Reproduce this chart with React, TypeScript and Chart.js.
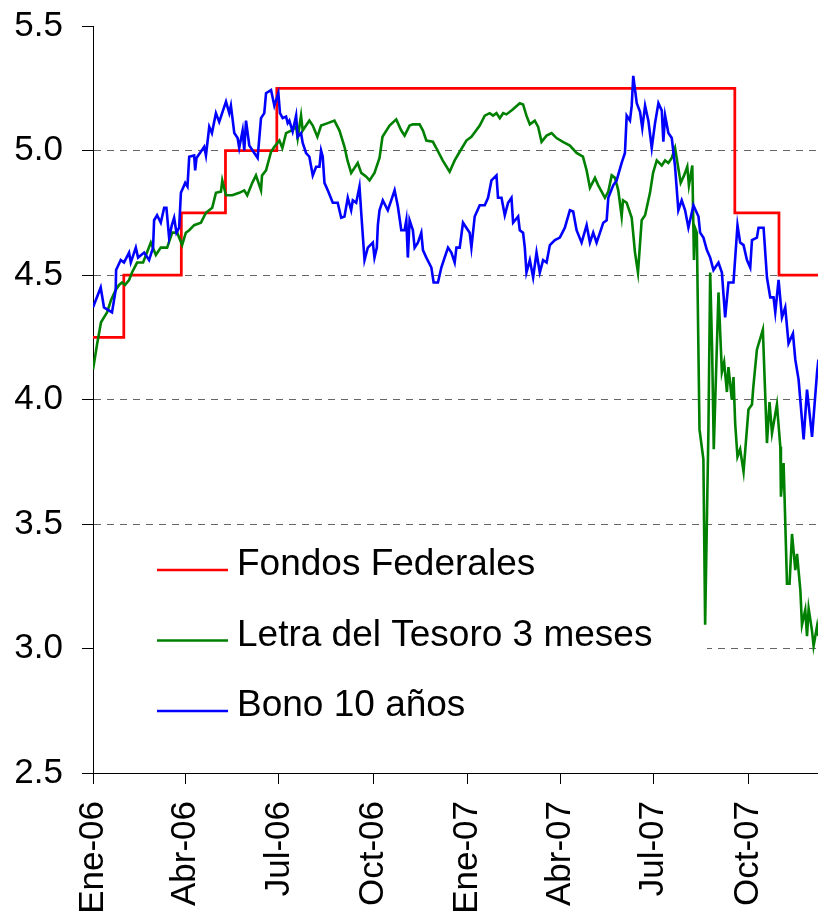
import React, { useEffect, useRef } from "react";
import { Chart, registerables } from "chart.js";

Chart.register(...registerables);

const FONT = "'Liberation Sans', Arial, Helvetica, sans-serif";

// x values are days since 1 Jan 2006
const TICK_DAYS = [0, 90, 181, 273, 365, 455, 546, 638];
const TICK_LABELS = ["Ene-06", "Abr-06", "Jul-06", "Oct-06", "Ene-07", "Abr-07", "Jul-07", "Oct-07"];
const Y_TICKS = [2.5, 3.0, 3.5, 4.0, 4.5, 5.0, 5.5];
const X_MAX = 706;

const SERIES_NAMES = ["Fondos Federales", "Letra del Tesoro 3 meses", "Bono 10 años"];
const SERIES_COLORS = ["#FF0000", "#008000", "#0000FF"];

const FED_DAYS = [0, 30, 86, 129, 179, 625, 668, 706];
const FED_RATES = [4.25, 4.5, 4.75, 5.0, 5.25, 4.75, 4.5, 4.5];

const TBILL_DAYS = [
  0, 3.9, 7.8, 10.7, 13.7, 17.6, 22.1, 25.4, 28.3, 31.2,
  35.1, 38.0, 42.9, 48.8, 56.3, 61.2, 66.0, 72.2, 77.1, 82.0,
  86.8, 90.4, 93.7, 98.5, 105.1, 110.0, 116.1, 119.7, 124.6, 125.9,
  129.5, 135.6, 142.4, 147.3, 150.2, 155.1, 158.7, 163.6, 164.6, 168.5,
  173.4, 176.6, 181.5, 184.4, 188.0, 192.9, 197.8, 199.3, 202.6, 204.2,
  210.7, 214.0, 218.5, 222.1, 228.6, 235.1, 240.0, 244.9, 247.8, 251.4,
  257.8, 261.2, 266.1, 269.3, 274.1, 279.0, 281.9, 288.8, 295.3, 300.2,
  303.4, 308.3, 311.5, 318.0, 321.3, 324.6, 331.0, 334.3, 340.5, 347.3,
  352.2, 357.1, 363.6, 368.5, 376.6, 381.5, 386.3, 389.6, 392.9, 396.1,
  399.4, 402.6, 408.7, 415.6, 418.8, 422.1, 425.4, 430.2, 433.5, 436.8,
  441.7, 446.6, 451.4, 457.6, 464.4, 470.9, 477.1, 480.7, 483.9, 488.8,
  492.0, 495.3, 498.5, 501.8, 505.1, 508.3, 511.5, 514.8, 516.1, 519.7,
  524.6, 527.8, 530.7, 534.3, 537.6, 542.4, 545.4, 549.0, 553.9, 557.1,
  560.3, 563.6, 566.8, 572.3, 575.6, 578.7, 580.3, 583.6, 585.2, 586.2,
  588.0, 590.6, 594.4, 596.1, 599.3, 601.0, 602.9, 604.5, 609.1, 612.4,
  614.6, 617.3, 618.8, 622.1, 623.7, 625.4, 627.6, 630.2, 633.5, 638.3,
  641.7, 643.0, 646.5, 652.3, 656.3, 658.8, 661.2, 666.0, 669.3, 669.9,
  672.5, 675.8, 678.3, 680.7, 683.9, 685.6, 688.8, 690.4, 693.6, 695.3,
  696.9, 700.2, 701.7, 705.1, 706.4,
];
const TBILL_RATES = [
  4.12, 4.22, 4.31, 4.33, 4.35, 4.40, 4.44, 4.46, 4.47, 4.46,
  4.48, 4.51, 4.55, 4.55, 4.63, 4.58, 4.61, 4.61, 4.67, 4.67,
  4.62, 4.67, 4.68, 4.70, 4.71, 4.75, 4.77, 4.83, 4.835, 4.88,
  4.82, 4.82, 4.83, 4.84, 4.82, 4.87, 4.90, 4.84, 4.90, 4.92,
  4.995, 5.015, 5.04, 5.01, 5.07, 5.08, 5.095, 5.05, 5.14, 5.08,
  5.12, 5.10, 5.055, 5.10, 5.11, 5.12, 5.08, 5.015, 4.96, 4.91,
  4.95, 4.91, 4.895, 4.88, 4.91, 4.97, 5.055, 5.10, 5.125, 5.08,
  5.06, 5.10, 5.105, 5.105, 5.08, 5.04, 5.035, 5.01, 4.96, 4.915,
  4.96, 4.995, 5.04, 5.055, 5.10, 5.14, 5.15, 5.14, 5.15, 5.13,
  5.15, 5.145, 5.165, 5.19, 5.185, 5.14, 5.105, 5.12, 5.095, 5.035,
  5.06, 5.07, 5.05, 5.035, 5.02, 4.99, 4.975, 4.92, 4.85, 4.89,
  4.86, 4.835, 4.81, 4.835, 4.90, 4.89, 4.84, 4.735, 4.80, 4.79,
  4.73, 4.59, 4.51, 4.72, 4.74, 4.83, 4.91, 4.96, 4.94, 4.96,
  4.95, 4.97, 5.01, 4.87, 4.90, 4.935, 4.86, 4.94, 4.56, 4.69,
  4.67, 3.88, 3.76, 3.095, 3.88, 4.51, 4.20, 3.80, 4.43, 4.11,
  4.15, 4.03, 4.13, 4.00, 4.09, 3.90, 3.77, 3.80, 3.71, 3.96,
  3.98, 4.05, 4.20, 4.28, 3.825, 3.99, 3.865, 3.98, 3.81, 3.61,
  3.745, 3.26, 3.26, 3.46, 3.315, 3.38, 3.235, 3.095, 3.155, 3.05,
  3.16, 3.07, 3.01, 3.09, 3.05,
];

const BOND_DAYS = [
  0, 7.5, 10.7, 18.5, 22.1, 22.5, 27, 30.2, 35.1, 36.8,
  41.7, 43.9, 49.8, 54.6, 58.5, 59.5, 62.4, 66, 69.3, 71.5,
  74.1, 76.8, 79, 81.3, 83.9, 85.6, 89.8, 92, 93.7, 98.5,
  99.5, 100.8, 108.3, 110, 113.2, 115.8, 119.7, 122.9, 129.5, 132.7,
  134.3, 137.6, 140.8, 142.4, 145.7, 147.3, 149, 152.2, 155.4, 160.3,
  163.6, 166.8, 168.5, 173.4, 176.6, 180.5, 182.1, 184.7, 188, 189.6,
  191.2, 194.4, 197.8, 199.3, 202.6, 204.2, 207.5, 210.7, 214, 217.3,
  220.5, 222.1, 223.7, 225.4, 228.6, 233.5, 238.3, 241.7, 244.9, 248.1,
  251.4, 253, 256.3, 259.5, 261.2, 264.4, 267.6, 272.5, 274.1, 276.4,
  277.4, 279, 282.2, 287.1, 290.4, 293.7, 296.9, 300.2, 303.4, 305.1,
  306.6, 308.3, 311.5, 313.2, 316.4, 319.7, 321.3, 324.6, 329.5, 331.7,
  335.9, 339.2, 342.4, 345.7, 349, 352.2, 353.9, 357.1, 360.3, 366.8,
  368.5, 371.7, 376.6, 381.5, 384.7, 388, 392.9, 394.4, 397.8, 401,
  404.2, 407.5, 409.1, 414, 415.6, 418.8, 420.5, 422.1, 425.4, 428.6,
  431.9, 435.1, 438.3, 441.7, 444.9, 449.8, 454.6, 459.5, 464.4, 467.6,
  470.9, 475.8, 480.7, 483.9, 487.1, 490.4, 493.7, 496.9, 500.2, 501.8,
  506.6, 509.9, 514.8, 518, 519.7, 522.9, 524.6, 526.1, 529.5, 532.7,
  534.9, 537.6, 540.8, 544.1, 547.3, 550.6, 553.9, 555.4, 557.1, 560.3,
  563.6, 566.8, 570, 573.3, 576.6, 579.8, 584.7, 589.6, 591.2, 594.4,
  597.8, 601, 604.2, 609.1, 612.4, 615.6, 618.8, 623.7, 627.6, 630.2,
  633.5, 636.8, 640, 641.7, 646.5, 648.1, 653, 656.3, 659.5, 662.7,
  664.4, 667.6, 670.9, 674.1, 677.3, 681.6, 683.9, 687.1, 692, 695.3,
  700.2, 705.1, 706.4,
];
const BOND_RATES = [
  4.37, 4.45, 4.37, 4.35, 4.44, 4.52, 4.56, 4.55, 4.59, 4.55,
  4.61, 4.57, 4.59, 4.56, 4.61, 4.72, 4.74, 4.71, 4.77, 4.77,
  4.65, 4.70, 4.73, 4.67, 4.69, 4.83, 4.87, 4.855, 4.975, 4.98,
  4.92, 4.97, 5.015, 4.98, 5.095, 5.07, 5.15, 5.115, 5.196, 5.15,
  5.18, 5.07, 5.05, 5.01, 5.08, 5.00, 5.12, 5.02, 5.00, 4.97,
  5.13, 5.15, 5.23, 5.243, 5.18, 5.23, 5.15, 5.13, 5.136, 5.11,
  5.12, 5.076, 5.14, 5.055, 5.07, 5.03, 4.99, 4.975, 4.90, 4.935,
  4.935, 5.00, 4.975, 4.87, 4.84, 4.79, 4.79, 4.73, 4.735, 4.81,
  4.76, 4.80, 4.79, 4.855, 4.75, 4.56, 4.61, 4.63, 4.57, 4.61,
  4.70, 4.76, 4.80, 4.76, 4.80, 4.84, 4.775, 4.68, 4.68, 4.72,
  4.57, 4.72, 4.68, 4.61, 4.63, 4.67, 4.60, 4.57, 4.53, 4.47,
  4.47, 4.53, 4.57, 4.61, 4.59, 4.55, 4.61, 4.61, 4.71, 4.67,
  4.61, 4.735, 4.78, 4.78, 4.81, 4.88, 4.90, 4.81, 4.81, 4.74,
  4.79, 4.81, 4.71, 4.735, 4.68, 4.67, 4.61, 4.51, 4.56, 4.49,
  4.59, 4.51, 4.56, 4.55, 4.62, 4.64, 4.65, 4.69, 4.76, 4.755,
  4.68, 4.63, 4.70, 4.63, 4.67, 4.63, 4.67, 4.71, 4.72, 4.81,
  4.86, 4.88, 4.95, 4.99, 5.14, 5.12, 5.18, 5.30, 5.19, 5.155,
  5.09, 5.18, 5.12, 5.01, 5.11, 5.19, 5.16, 5.035, 5.14, 5.07,
  5.05, 4.935, 4.76, 4.80, 4.76, 4.69, 4.78, 4.735, 4.67, 4.65,
  4.60, 4.57, 4.52, 4.55, 4.51, 4.33, 4.47, 4.47, 4.70, 4.63,
  4.62, 4.56, 4.53, 4.64, 4.65, 4.69, 4.69, 4.49, 4.41, 4.41,
  4.35, 4.48, 4.33, 4.37, 4.225, 4.265, 4.16, 4.08, 3.84, 4.04,
  3.85, 4.11, 4.16,
];

const toPoints = (xs: number[], ys: number[]) => xs.map((x, i) => ({ x, y: ys[i] }));

const legendPlugin = {
  id: "boxLegend",
  beforeDatasetsDraw(chart: any) {
    const { ctx, chartArea } = chart;
    ctx.save();
    ctx.fillStyle = "#FFFFFF";
    ctx.fillRect(chartArea.left + 1, 536, 707 - chartArea.left - 1, 194);
    ctx.restore();
  },
  afterDraw(chart: any) {
    const ctx = chart.ctx;
    ctx.save();
    ctx.font = `37px ${FONT}`;
    ctx.textAlign = "left";
    ctx.textBaseline = "alphabetic";
    SERIES_NAMES.forEach((name, i) => {
      const base = 575 + i * 70.5;
      ctx.strokeStyle = SERIES_COLORS[i];
      ctx.lineWidth = 2.5;
      ctx.beginPath();
      ctx.moveTo(157, base - 5);
      ctx.lineTo(228, base - 5);
      ctx.stroke();
      ctx.fillStyle = "#000";
      ctx.fillText(name, 237, base);
    });
    ctx.restore();
  },
};

export default function App() {
  const ref = useRef<HTMLCanvasElement | null>(null);

  useEffect(() => {
    if (!ref.current) return;
    const chart = new Chart(ref.current, {
      type: "line",
      data: {
        datasets: [
          {
            label: SERIES_NAMES[0],
            data: toPoints(FED_DAYS, FED_RATES),
            borderColor: SERIES_COLORS[0],
            borderWidth: 2.75,
            pointRadius: 0,
            stepped: "before",
            order: 3,
          },
          {
            label: SERIES_NAMES[1],
            data: toPoints(TBILL_DAYS, TBILL_RATES),
            borderColor: SERIES_COLORS[1],
            borderWidth: 2.6,
            pointRadius: 0,
            order: 2,
          },
          {
            label: SERIES_NAMES[2],
            data: toPoints(BOND_DAYS, BOND_RATES),
            borderColor: SERIES_COLORS[2],
            borderWidth: 2.6,
            pointRadius: 0,
            order: 1,
          },
        ],
      },
      options: {
        animation: false,
        responsive: false,
        devicePixelRatio: 1,
        layout: { padding: { top: 26, right: 0, bottom: 0, left: 0 } },
        plugins: { legend: { display: false }, tooltip: { enabled: false } },
        scales: {
          x: {
            type: "linear",
            min: 0,
            max: X_MAX,
            afterBuildTicks: (s: any) => {
              s.ticks = TICK_DAYS.map((v) => ({ value: v }));
            },
            afterFit: (s: any) => {
              s.height = 147;
              s.paddingLeft = 0;
              s.paddingRight = 0;
            },
            ticks: {
              autoSkip: false,
              minRotation: 90,
              maxRotation: 90,
              padding: 17,
              color: "#000",
              font: { size: 35, family: FONT },
              callback: (_v: any, i: number) => TICK_LABELS[i],
            },
            grid: {
              drawOnChartArea: false,
              drawTicks: true,
              tickLength: 11,
              tickColor: "#000",
              color: "#000",
            },
            border: { display: true, color: "#000", width: 1 },
          },
          y: {
            min: 2.5,
            max: 5.5,
            afterBuildTicks: (s: any) => {
              s.ticks = Y_TICKS.map((v) => ({ value: v }));
            },
            afterFit: (s: any) => {
              s.width = 93;
              s.paddingTop = 0;
              s.paddingBottom = 0;
            },
            ticks: {
              padding: 19,
              color: "#000",
              font: { size: 35, family: FONT },
              callback: (v: any) => Number(v).toFixed(1),
            },
            grid: {
              drawTicks: true,
              tickLength: 11,
              tickColor: "#000",
              lineWidth: 1,
              color: (c: any) =>
                c.tick && (c.tick.value === 2.5 || c.tick.value === 5.5) ? "rgba(0,0,0,0)" : "#666666",
            },
            border: { display: true, color: "#000", width: 1, dash: [7, 6] },
          },
        },
      },
      plugins: [legendPlugin],
    } as any);
    return () => chart.destroy();
  }, []);

  return (
    <div style={{ position: "absolute", left: 0, top: 0, width: 818, height: 920, background: "#fff" }}>
      <canvas ref={ref} width={818} height={920} style={{ display: "block" }} />
    </div>
  );
}
